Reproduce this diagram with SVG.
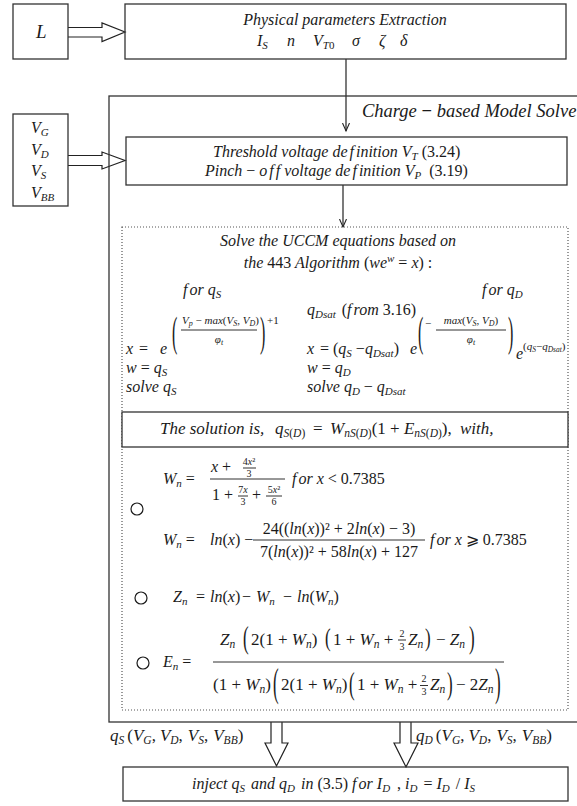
<svg xmlns="http://www.w3.org/2000/svg" width="577" height="806" viewBox="0 0 577 806">
<defs>
<style>
text { font-family: "Liberation Serif", "Times New Roman", serif; font-size: 16px; font-style: italic; fill: #1a1a1a; }
.u { font-style: normal; }
.i { font-style: italic; }
.sub { font-size: 11px; }
.sm { font-size: 11px; }
.ss { font-size: 8px; }
.xs { font-size: 7.5px; }
.fr { font-size: 10px; text-anchor: middle; }
.mid { text-anchor: middle; }
.m { font-size: 17px; }
.msub { font-size: 11.5px; }
.big { font-size: 18.5px; }
.lg { font-size: 19px; }
.box { fill: none; stroke: #333; stroke-width: 1.3; }
.dot { fill: none; stroke: #555; stroke-width: 1.2; stroke-dasharray: 1 2; }
.conn { stroke: #222; stroke-width: 1.2; fill: none; }
.hollow { fill: #fff; stroke: #222; stroke-width: 1.2; }
.circ { fill: none; stroke: #1a1a1a; stroke-width: 1.2; }
.fl { stroke: #1a1a1a; stroke-width: 0.9; }
</style>
<marker id="ah" markerWidth="10" markerHeight="8" refX="8" refY="4" orient="auto" markerUnits="userSpaceOnUse">
<path d="M0,0.5 L8,4 L0,7.5" fill="none" stroke="#222" stroke-width="1.1"/>
</marker>
</defs>
<rect width="577" height="806" fill="#fff"/>

<g id="connectors">
<path class="hollow" d="M68,27.5 H102 V23 L125,32 L102,41.5 V37 H68"/>
<path class="hollow" d="M68,155.5 H102 V152 L125,160.5 L102,169 V165.5 H68"/>
<path class="conn" d="M346,59 V131" marker-end="url(#ah)"/>
<path class="conn" d="M343,185 V227" marker-end="url(#ah)"/>
<path class="hollow" d="M271,722 V743 H265 L276.5,766 L288,743 H282 V722"/>
<path class="hollow" d="M400,722 V743 H394 L406,767 L418,743 H411 V722"/>
<text x="110" y="741" class="m">q<tspan class="msub" dy="3">S</tspan><tspan class="u" dy="-3" dx="3">(</tspan>V<tspan class="msub" dy="3">G</tspan><tspan class="u" dy="-3">,</tspan><tspan dx="4">V</tspan><tspan class="msub" dy="3">D</tspan><tspan class="u" dy="-3">,</tspan><tspan dx="5">V</tspan><tspan class="msub" dy="3">S</tspan><tspan class="u" dy="-3">,</tspan><tspan dx="5">V</tspan><tspan class="msub" dy="3">BB</tspan><tspan class="u" dy="-3">)</tspan></text>
<text x="416" y="741" class="m">q<tspan class="msub" dy="3">D</tspan><tspan class="u" dy="-3" dx="3">(</tspan>V<tspan class="msub" dy="3">G</tspan><tspan class="u" dy="-3">,</tspan><tspan dx="4">V</tspan><tspan class="msub" dy="3">D</tspan><tspan class="u" dy="-3">,</tspan><tspan dx="5">V</tspan><tspan class="msub" dy="3">S</tspan><tspan class="u" dy="-3">,</tspan><tspan dx="5">V</tspan><tspan class="msub" dy="3">BB</tspan><tspan class="u" dy="-3">)</tspan></text>
</g>

<g id="n-L">
<rect class="box" x="13" y="4" width="55" height="55"/>
<text x="36" y="38" class="lg">L</text>
</g>

<g id="n-phys">
<rect class="box" x="125" y="4" width="441" height="55"/>
<text x="345" y="25" class="mid">Physical parameters Extraction</text>
<text x="257" y="46">I<tspan class="sub" dy="3">S</tspan></text>
<text x="287" y="46">n</text>
<text x="313" y="46">V<tspan class="sub" dy="3">T<tspan class="u">0</tspan></tspan></text>
<text x="352" y="46">σ</text>
<text x="379" y="46">ζ</text>
<text x="400" y="46">δ</text>
</g>

<g id="n-vin">
<rect class="box" x="13" y="114" width="55" height="92"/>
<text x="31" y="133">V<tspan class="sub" dy="3">G</tspan></text>
<text x="31" y="155">V<tspan class="sub" dy="3">D</tspan></text>
<text x="31" y="176">V<tspan class="sub" dy="3">S</tspan></text>
<text x="31" y="198">V<tspan class="sub" dy="3">BB</tspan></text>
</g>

<g id="n-solve">
<rect class="box" x="109" y="96" width="480" height="626"/>
<text x="362" y="117" class="big">Charge <tspan class="u" font-weight="bold">−</tspan> based Model Solve</text>
</g>

<g id="n-thresh">
<rect class="box" x="126" y="137" width="441" height="48"/>
<text x="213" y="157">Threshold voltage de<tspan dx="2">f</tspan><tspan dx="2">inition V</tspan><tspan class="sub" dy="3">T</tspan><tspan class="u" dy="-3"> (3.24)</tspan></text>
<text x="205" y="176">Pinch <tspan class="u">−</tspan> o<tspan dx="2">f</tspan><tspan dx="2">f</tspan> voltage de<tspan dx="2">f</tspan><tspan dx="2">inition V</tspan><tspan class="sub" dy="3">P</tspan><tspan class="u" dy="-3" dx="4"> (3.19)</tspan></text>
</g>

<g id="n-uccm">
<rect class="dot" x="122" y="227" width="446" height="483"/>
<text x="338" y="246" class="mid">Solve the UCCM equations based on</text>
<text x="338" y="268" class="mid">the <tspan class="u">443</tspan> Algorithm <tspan class="u">(</tspan>we<tspan class="sm" dy="-6">w</tspan><tspan class="u" dy="6"> = </tspan>x<tspan class="u">) :</tspan></text>
<text x="183" y="295">f<tspan dx="2">or q</tspan><tspan class="sub" dy="3">S</tspan></text>
<text x="482" y="295">f<tspan dx="2">or q</tspan><tspan class="sub" dy="3">D</tspan></text>
<text x="307" y="315">q<tspan class="sub" dy="3">Dsat</tspan><tspan class="u" dy="-3" dx="6">(</tspan>f<tspan dx="2">rom</tspan><tspan class="u"> 3.16)</tspan></text>

<text x="126" y="354">x<tspan class="u" x="139">=</tspan><tspan x="160">e</tspan></text>
<text class="u" transform="translate(172,346) scale(1,2.6)">(</text>
<text x="182" y="324" class="sm">V<tspan class="ss" dy="2">p</tspan><tspan class="u" dy="-2"> − </tspan>max<tspan class="u">(</tspan>V<tspan class="ss" dy="2">S</tspan><tspan class="u" dy="-2">, </tspan>V<tspan class="ss" dy="2">D</tspan><tspan class="u" dy="-2">)</tspan></text>
<line class="fl" x1="181" y1="330" x2="257" y2="330"/>
<text x="219" y="343" class="sm mid">φ<tspan class="ss" dy="2">t</tspan></text>
<text class="u" transform="translate(260,346) scale(1,2.6)">)</text>
<text x="267" y="324" class="sm u">+1</text>

<text x="307" y="354">x<tspan class="u" x="320">= (</tspan>q<tspan class="sub" dy="3">S</tspan><tspan class="u" dy="-3"> −</tspan>q<tspan class="sub" dy="3">Dsat</tspan><tspan class="u" dy="-3">)</tspan><tspan x="410">e</tspan></text>
<text class="u" transform="translate(418,346) scale(1,2.6)">(</text>
<text x="425" y="327" class="sm u">−</text>
<text x="471" y="324" class="sm mid">max<tspan class="u">(</tspan>V<tspan class="ss" dy="2">S</tspan><tspan class="u" dy="-2">, </tspan>V<tspan class="ss" dy="2">D</tspan><tspan class="u" dy="-2">)</tspan></text>
<line class="fl" x1="436" y1="330" x2="506" y2="330"/>
<text x="471" y="343" class="sm mid">φ<tspan class="ss" dy="2">t</tspan></text>
<text class="u" transform="translate(508,346) scale(1,2.6)">)</text>
<text x="516" y="359">e</text>
<text x="523" y="350" class="sm"><tspan class="u">(</tspan>q<tspan class="xs" dy="2">S</tspan><tspan class="u" dy="-2">−</tspan>q<tspan class="xs" dy="2">Dsat</tspan><tspan class="u" dy="-2">)</tspan></text>

<text x="126" y="373">w<tspan class="u"> = </tspan>q<tspan class="sub" dy="3">S</tspan></text>
<text x="126" y="392">solve q<tspan class="sub" dy="3">S</tspan></text>
<text x="307" y="373">w<tspan class="u"> = </tspan>q<tspan class="sub" dy="3">D</tspan></text>
<text x="307" y="392">solve q<tspan class="sub" dy="3">D</tspan><tspan class="u" dy="-3"> − </tspan>q<tspan class="sub" dy="3">Dsat</tspan></text>

<circle class="circ" cx="137" cy="509" r="6"/>
<text x="163" y="484">W<tspan class="sub" dy="3">n</tspan><tspan class="u" dy="-3" dx="4">=</tspan></text>
<text x="211" y="472">x<tspan class="u"> + </tspan></text>
<text x="249" y="465" class="fr"><tspan class="u">4</tspan>x<tspan class="u">²</tspan></text>
<line class="fl" x1="243" y1="468" x2="256" y2="468"/>
<text x="249" y="477" class="fr u">3</text>
<line class="fl" x1="210" y1="479" x2="285" y2="479"/>
<text x="212" y="500" class="u">1 + </text>
<text x="243" y="493" class="fr"><tspan class="u">7</tspan>x</text>
<line class="fl" x1="238" y1="496" x2="248" y2="496"/>
<text x="243" y="505" class="fr u">3</text>
<text x="252" y="500" class="u">+</text>
<text x="274" y="493" class="fr"><tspan class="u">5</tspan>x<tspan class="u">²</tspan></text>
<line class="fl" x1="266" y1="496" x2="282" y2="496"/>
<text x="274" y="505" class="fr u">6</text>
<text x="292" y="484">f<tspan dx="2">or x</tspan><tspan class="u"> &lt; 0.7385</tspan></text>

<text x="163" y="545">W<tspan class="sub" dy="3">n</tspan><tspan class="u" dy="-3" dx="4">=</tspan><tspan x="210">ln</tspan><tspan class="u">(</tspan>x<tspan class="u">) −</tspan></text>
<text x="339" y="534" class="u mid">24((<tspan class="i">ln</tspan>(<tspan class="i">x</tspan>))² + 2<tspan class="i">ln</tspan>(<tspan class="i">x</tspan>) − 3)</text>
<line class="fl" x1="253" y1="540" x2="425" y2="540"/>
<text x="339" y="557" class="u mid">7(<tspan class="i">ln</tspan>(<tspan class="i">x</tspan>))² + 58<tspan class="i">ln</tspan>(<tspan class="i">x</tspan>) + 127</text>
<text x="430" y="545">f<tspan dx="2">or x</tspan><tspan class="u"> ⩾ 0.7385</tspan></text>

<circle class="circ" cx="141" cy="598" r="6"/>
<text x="173" y="602">Z<tspan class="sub" dy="3">n</tspan><tspan class="u" dy="-3" x="196">=</tspan><tspan x="210">ln</tspan><tspan class="u">(</tspan>x<tspan class="u">)</tspan><tspan class="u" x="242">−</tspan><tspan x="256">W</tspan><tspan class="sub" dy="3">n</tspan><tspan class="u" dy="-3" x="283">−</tspan><tspan x="297">ln</tspan><tspan class="u">(</tspan>W<tspan class="sub" dy="3">n</tspan><tspan class="u" dy="-3">)</tspan></text>

<circle class="circ" cx="143" cy="663" r="6"/>
<text x="163" y="667">E<tspan class="sub" dy="3">n</tspan><tspan class="u" dy="-3" dx="4">=</tspan></text>
<line class="fl" x1="213" y1="662" x2="504" y2="662"/>
<text x="220" y="645" class="m">Z<tspan class="msub" dy="3">n</tspan></text>
<text class="u m" transform="translate(243,647.6) scale(1,1.8)">(</text>
<text x="251" y="645" class="u m">2(1 + <tspan class="i">W</tspan><tspan class="msub i" dy="3">n</tspan><tspan dy="-3">)</tspan></text>
<text class="u m" transform="translate(325,646.4) scale(1,1.5)">(</text>
<text x="333" y="645" class="u m">1 + <tspan class="i">W</tspan><tspan class="msub i" dy="3">n</tspan><tspan dy="-3"> +</tspan></text>
<text x="402" y="637" class="fr u">2</text>
<line class="fl" x1="398" y1="640" x2="406" y2="640"/>
<text x="402" y="649.5" class="fr u">3</text>
<text x="408" y="645" class="m">Z<tspan class="msub" dy="3">n</tspan></text>
<text class="u m" transform="translate(425,646.4) scale(1,1.5)">)</text>
<text x="436" y="645" class="u m">− <tspan class="i">Z</tspan><tspan class="msub i" dy="3">n</tspan></text>
<text class="u m" transform="translate(469,647.6) scale(1,1.8)">)</text>

<text x="213" y="690" class="u m">(1 + <tspan class="i">W</tspan><tspan class="msub i" dy="3">n</tspan><tspan dy="-3">)</tspan></text>
<text class="u m" transform="translate(273,695.8) scale(1,2.3)">(</text>
<text x="281" y="690" class="u m">2(1 + <tspan class="i">W</tspan><tspan class="msub i" dy="3">n</tspan><tspan dy="-3">)</tspan></text>
<text class="u m" transform="translate(349,694.1) scale(1,1.9)">(</text>
<text x="357" y="690" class="u m">1 + <tspan class="i">W</tspan><tspan class="msub i" dy="3">n</tspan><tspan dy="-3"> +</tspan></text>
<text x="424" y="682" class="fr u">2</text>
<line class="fl" x1="420" y1="685.5" x2="428" y2="685.5"/>
<text x="424" y="694.5" class="fr u">3</text>
<text x="430" y="690" class="m">Z<tspan class="msub" dy="3">n</tspan></text>
<text class="u m" transform="translate(447,694.1) scale(1,1.9)">)</text>
<text x="456" y="690" class="u m">− 2<tspan class="i">Z</tspan><tspan class="msub i" dy="3">n</tspan></text>
<text class="u m" transform="translate(495,695.8) scale(1,2.3)">)</text>
</g>

<g id="n-solution">
<rect x="122" y="412" width="446" height="35" fill="#fff" stroke="#333" stroke-width="1.3"/>
<text x="160" y="434" class="m">The solution is,<tspan x="275">q</tspan><tspan class="msub" dy="3">S<tspan class="u">(</tspan>D<tspan class="u">)</tspan></tspan><tspan class="u" dy="-3" x="313">=</tspan><tspan x="330">W</tspan><tspan class="msub" dy="3">nS<tspan class="u">(</tspan>D<tspan class="u">)</tspan></tspan><tspan class="u" dy="-3">(1 + </tspan>E<tspan class="msub" dy="3">nS<tspan class="u">(</tspan>D<tspan class="u">)</tspan></tspan><tspan class="u" dy="-3">),</tspan><tspan x="460">with,</tspan></text>
</g>

<g id="n-inject">
<rect class="box" x="123" y="767" width="445" height="34"/>
<text x="192" y="789">inject q<tspan class="sub" dy="3">S</tspan><tspan dy="-3" dx="2"> and q</tspan><tspan class="sub" dy="3">D</tspan><tspan dy="-3" dx="2"> in </tspan><tspan class="u">(3.5) </tspan>f<tspan dx="2">or I</tspan><tspan class="sub" dy="3">D</tspan><tspan class="u" dy="-3" dx="3"> , </tspan>i<tspan class="sub" dy="3">D</tspan><tspan class="u" dy="-3" dx="2"> = </tspan>I<tspan class="sub" dy="3">D</tspan><tspan class="u" dy="-3" dx="2"> / </tspan>I<tspan class="sub" dy="3">S</tspan></text>
</g>
</svg>
